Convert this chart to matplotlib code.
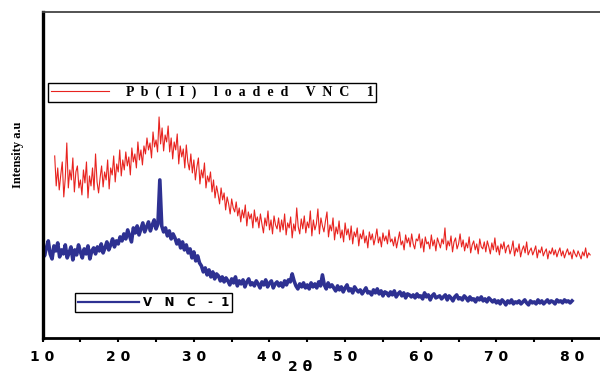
import numpy as np
import matplotlib
matplotlib.use("Agg")
import matplotlib.pyplot as plt

# 2-theta scan grids (deg)
two_theta_pb = np.arange(355) * 0.2 + 11.6
two_theta_vnc = np.arange(281) * 0.25 + 10.0

# intensity (a.u.)
pb_loaded = [
    182, 152, 170, 148, 163, 176, 141, 160, 195, 150, 168, 158, 180, 146, 166,
    172, 150, 158, 143, 168, 155, 176, 140, 162, 152, 170, 148, 184, 156, 145,
    160, 172, 151, 166, 158, 178, 149, 170, 163, 182, 156, 174, 166, 188, 162,
    178, 168, 186, 172, 181, 163, 190, 176, 184, 170, 196, 178, 188, 173, 192,
    184, 200, 188, 195, 180, 206, 191, 198, 186, 221, 194, 210, 187, 203, 196,
    212, 186, 200, 179, 196, 188, 204, 174, 192, 181, 189, 170, 193, 176, 168,
    184, 165, 178, 158, 171, 180, 154, 168, 160, 175, 150, 162, 156, 166, 146,
    158, 140, 152, 144, 134, 150, 138, 145, 128, 141, 134, 124, 139, 130, 126,
    136, 122, 130, 116, 128, 120, 133, 112, 126, 119, 124, 110, 128, 116, 121,
    110, 124, 114, 105, 120, 112, 127, 108, 118, 104, 122, 113, 109, 120, 106,
    118, 108, 124, 103, 115, 110, 121, 100, 114, 107, 130, 111, 104, 119, 109,
    122, 105, 116, 110, 127, 102, 118, 108, 114, 129, 104, 120, 112, 106, 117,
    126, 101, 113, 107, 120, 98, 111, 104, 117, 100, 108, 96, 115, 103, 109,
    98, 112, 94, 106, 101, 110, 92, 104, 99, 108, 95, 102, 90, 106, 98,
    104, 93, 100, 109, 95, 101, 91, 105, 97, 102, 94, 108, 96, 99, 92,
    101, 90, 98, 106, 93, 97, 88, 103, 95, 100, 91, 104, 94, 89, 99,
    97, 104, 90, 99, 86, 101, 94, 96, 89, 103, 92, 98, 87, 100, 95,
    90, 99, 94, 110, 88, 97, 92, 102, 86, 96, 100, 89, 94, 104, 91,
    98, 87, 95, 90, 101, 85, 93, 97, 88, 94, 84, 99, 91, 89, 96,
    86, 97, 91, 84, 95, 88, 100, 86, 92, 83, 94, 89, 96, 85, 91,
    93, 84, 89, 97, 82, 90, 86, 94, 81, 88, 92, 85, 96, 83, 87,
    90, 83, 87, 92, 80, 88, 85, 91, 82, 86, 89, 79, 87, 84, 90,
    83, 88, 81, 86, 90, 82, 87, 80, 85, 89, 83, 86, 79, 88, 84,
    81, 87, 83, 79, 86, 82, 90, 80, 85, 83,
]

vnc1 = [
    94, 82, 90, 97, 84, 79, 92, 87, 95, 81, 88, 84, 93, 80,
    85, 91, 78, 88, 83, 93, 86, 80, 89, 84, 92, 79, 87, 90,
    84, 91, 87, 94, 85, 90, 96, 88, 93, 99, 91, 97, 94, 101,
    97, 104, 99, 108, 102, 96, 110, 105, 112, 103, 109, 115, 106, 111,
    116, 107, 113, 118, 109, 114, 158, 112, 106, 110, 102, 107, 99, 104,
    100, 94, 98, 90, 96, 88, 93, 85, 89, 80, 86, 77, 82, 75,
    72, 66, 70, 63, 68, 61, 66, 59, 64, 62, 57, 61, 56, 60,
    57, 53, 59, 55, 61, 52, 57, 54, 58, 51, 56, 59, 53, 55,
    52, 57, 54, 50, 56, 53, 58, 51, 55, 57, 50, 54, 56, 52,
    55, 51, 57, 53, 58, 56, 64, 57, 52, 49, 54, 51, 55, 50,
    53, 49, 55, 51, 54, 50, 56, 52, 63, 53, 49, 55, 51, 53,
    50, 47, 52, 48, 51, 46, 50, 53, 47, 49, 45, 51, 48, 46,
    48, 44, 47, 50, 45, 46, 43, 48, 45, 49, 44, 47, 42, 46,
    45, 42, 46, 43, 47, 41, 44, 46, 42, 45, 40, 44, 43, 41,
    43, 40, 44, 41, 42, 39, 45, 41, 43, 38, 42, 44, 40, 41,
    42, 39, 41, 43, 38, 42, 40, 37, 41, 43, 39, 40, 38, 42,
    40, 37, 41, 38, 39, 36, 40, 38, 41, 37, 39, 36, 40, 38,
    36, 38, 35, 37, 34, 38, 36, 33, 37, 35, 38, 34, 36, 35,
    37, 34, 36, 38, 35, 33, 37, 35, 36, 34, 38, 35, 37, 34,
    36, 38, 35, 37, 36, 34, 38, 36, 37, 35, 38, 36, 37, 35,
    37,
]

xticks = [10, 20, 30, 40, 50, 60, 70, 80]
xtick_labels = ["1 0", "2 0", "3 0", "4 0", "5 0", "6 0", "7 0", "8 0"]

fig = plt.figure(figsize=(6, 3.75), dpi=100)
ax = fig.add_axes([0.071, 0.099, 0.929, 0.869])

red_line, = ax.plot(two_theta_pb, pb_loaded, color="#e8231f", lw=0.8)
blue_line, = ax.plot(two_theta_vnc, vnc1, color="#2e3192", lw=2.6)

ax.set_xlim(10, 83.7)
ax.set_ylim(0, 326)

ax.set_xticks(xticks)
ax.set_xticklabels(xtick_labels, fontweight="bold", fontsize=10, family="DejaVu Sans")
ax.set_xticks([15, 25, 35, 45, 55, 65, 75], minor=True)
ax.tick_params(axis="x", which="both", direction="out", length=3, width=1.5, pad=6)
ax.set_yticks([])

ax.spines["right"].set_visible(False)
ax.spines["left"].set_linewidth(2.4)
ax.spines["bottom"].set_linewidth(2.0)
ax.spines["top"].set_linewidth(1.3)
ax.spines["top"].set_color("#444444")

fig.text(0.5, 0.022, "2 θ", ha="center", va="center", fontweight="bold", fontsize=10)
fig.text(0.03, 0.587, "Intensity a.u", rotation=90, ha="center", va="center",
         fontweight="bold", fontsize=9, family="Liberation Serif")

leg1 = ax.legend([red_line], ["P  b  (  I  I  )     l  o  a  d  e  d     V  N  C     1"],
                 loc="upper left", bbox_to_anchor=(48 / 600, 1 - 83 / 375),
                 bbox_transform=fig.transFigure, fancybox=False, framealpha=1,
                 edgecolor="black", handlelength=4.2, borderpad=0.2,
                 borderaxespad=0, handletextpad=1.2,
                 prop={"family": "Liberation Serif", "weight": "bold", "size": 10})
leg1.get_frame().set_linewidth(1.0)
ax.add_artist(leg1)

leg2 = ax.legend([blue_line], ["V   N   C   -  1"],
                 loc="upper left", bbox_to_anchor=(75 / 600, 1 - 293 / 375),
                 bbox_transform=fig.transFigure, fancybox=False, framealpha=1,
                 edgecolor="black", handlelength=5.2, borderpad=0.25,
                 borderaxespad=0, handletextpad=0.3,
                 prop={"family": "DejaVu Sans", "weight": "bold", "size": 8.5})
leg2.get_frame().set_linewidth(1.0)
for h in leg2.legend_handles:
    h.set_linewidth(1.6)

fig.savefig("out.png", dpi=100)
